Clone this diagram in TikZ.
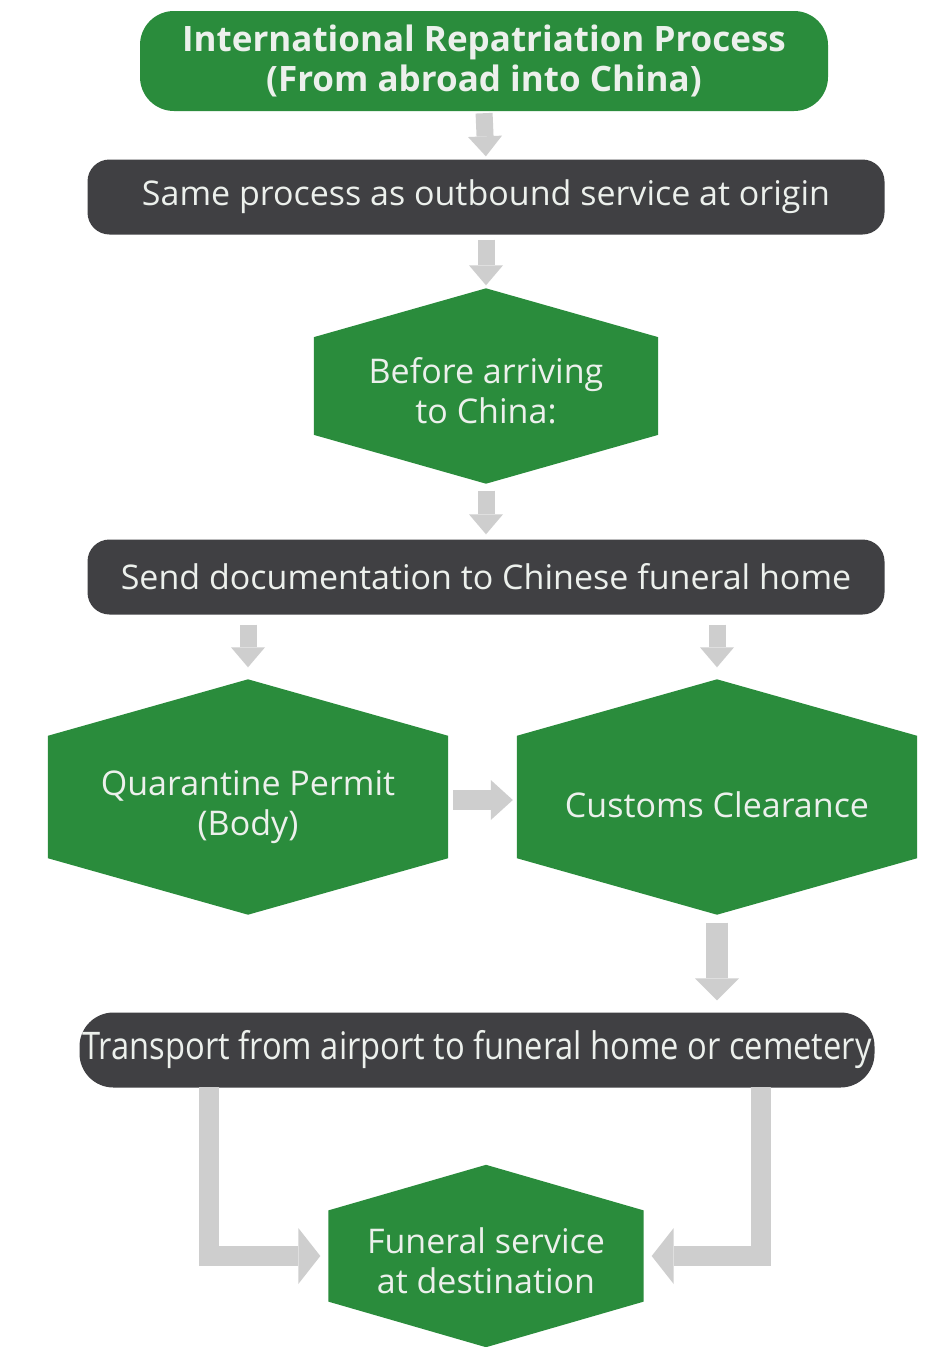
\documentclass[tikz,border=0pt]{standalone}
\usepackage{fontspec}
\setmainfont{Open Sans}
\newfontfamily\narrowfont[FakeStretch=0.86]{Open Sans}
\usetikzlibrary{arrows.meta,backgrounds,calc}
\definecolor{hgreen}{RGB}{42,140,60}
\definecolor{hdark}{RGB}{64,64,67}
\definecolor{harrow}{RGB}{206,206,206}
\definecolor{htext}{RGB}{236,240,236}
% #1 corner ratio, #2 node, #3 upward offset of the hexagon from the node (pt)
\newcommand\myhexfill[3][0.25]{%
  \fill[hgreen] ([yshift=#3pt]#2.north)
    -- ($([yshift=#3pt]#2.north west)!#1!([yshift=#3pt]#2.south west)$)
    -- ($([yshift=#3pt]#2.south west)!#1!([yshift=#3pt]#2.north west)$)
    -- ([yshift=#3pt]#2.south)
    -- ($([yshift=#3pt]#2.south east)!#1!([yshift=#3pt]#2.north east)$)
    -- ($([yshift=#3pt]#2.north east)!#1!([yshift=#3pt]#2.south east)$) -- cycle;}
\tikzset{
  titlebox/.style={rectangle, rounded corners=34pt, fill=hgreen, text=htext,
    minimum width=688pt, minimum height=100pt, inner sep=0pt, align=center,
    font=\bfseries\fontsize{35}{40}\selectfont},
  darkbox/.style={rectangle, rounded corners=22pt, fill=hdark, text=htext,
    minimum width=797pt, minimum height=75pt, inner sep=0pt,
    font=\fontsize{34}{40}\selectfont},
  hexbox/.style={rectangle, inner sep=0pt, text=htext, align=center,
    font=\fontsize{34}{40}\selectfont},
  blk/.style={draw=harrow, line width=17pt,
    -{Triangle[width=34pt,length=20pt,line width=0pt]}},
  bigblk/.style={draw=harrow, line width=22pt,
    -{Triangle[width=44pt,length=22pt,line width=0pt]}},
  elbow/.style={draw=harrow, line width=20pt, line join=miter,
    -{Triangle[width=56pt,length=22pt,line width=0pt]}},
}
\begin{document}
\begin{tikzpicture}[x=1pt,y=-1pt]
\useasboundingbox (0,0) rectangle (929,1347);

\node[titlebox] (title) at (484,61) {International Repatriation Process\\(From abroad into China)};
\node[darkbox] (same) at (486,197) {Same process as outbound service at origin};
\node[hexbox, minimum width=344pt, minimum height=195pt] (before) at (486,391) {Before arriving\\to China:};
\node[darkbox] (send) at (486,577) {Send documentation to Chinese funeral home};
\node[hexbox, minimum width=400pt, minimum height=235pt] (quar) at (248,807) {Quarantine Permit\\(Body)};
\node[hexbox, minimum width=400pt, minimum height=235pt] (cust) at (717,805) {Customs Clearance};
\node[darkbox, rounded corners=34pt, minimum width=795pt, font=\narrowfont\fontsize{38}{40}\selectfont] (trans) at (477,1050) {Transport from airport to funeral home or cemetery};
\node[hexbox, minimum width=315pt, minimum height=182pt] (fun) at (486,1261) {Funeral service\\at destination};

\begin{pgfonlayer}{background}
  \fill[white] (0,0) rectangle (929,1347);
  \myhexfill{before}{5}
  \myhexfill[0.24]{quar}{10}
  \myhexfill[0.24]{cust}{8}
  \myhexfill{fun}{5}
\end{pgfonlayer}

\coordinate (tl) at (209,1087);
\coordinate (tr) at (761,1087);

\draw[blk, shorten <=2pt, shorten >=3pt] (title.south) -- (same.north);
\draw[blk, shorten <=5pt, shorten >=3pt] (same.south) -- ([yshift=5pt]before.north);
\draw[blk, shorten <=2pt, shorten >=5pt] (before.south) -- (send.north);
\draw[blk, shorten <=10pt, shorten >=12pt] (send.south -| quar.north) -- ([yshift=10pt]quar.north);
\draw[blk, shorten <=10pt, shorten >=12pt] (send.south -| cust.north) -- ([yshift=8pt]cust.north);
\draw[blk, line width=20pt, -{Triangle[width=40pt,length=22pt,line width=0pt]}, shorten <=5pt, shorten >=4pt] ([yshift=7pt]quar.east) -- ([yshift=7pt]quar.east -| cust.west);
\draw[bigblk, shorten <=0pt, shorten >=12pt] (cust.south) -- (cust.south |- trans.north);
\draw[elbow, shorten >=8pt] (tl) |- ([yshift=5pt]fun.west);
\draw[elbow, shorten >=8pt] (tr) |- ([yshift=5pt]fun.east);
\end{tikzpicture}
\end{document}
